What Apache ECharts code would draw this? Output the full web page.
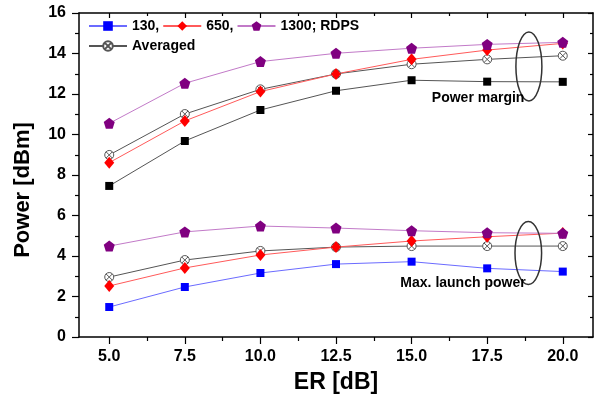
<!DOCTYPE html>
<html>
<head>
<meta charset="utf-8">
<script src="https://cdn.jsdelivr.net/npm/echarts@6/dist/echarts.min.js"></script>
<style>
html,body{margin:0;padding:0;background:#fff;}
#c{width:594px;height:402px;}
</style>
</head>
<body>
<div id="c"></div>
<script>
// ---- data ----
var erValues = [5, 7.5, 10, 12.5, 15, 17.5, 20];
var xMajorTicks = [5, 7.5, 10, 12.5, 15, 17.5, 20];
var xMinorTicks = [6.25, 8.75, 11.25, 13.75, 16.25, 18.75];
// Power margin group
var pm130  = [7.46, 9.68, 11.21, 12.16, 12.68, 12.61, 12.60];
var pm650  = [8.61, 10.67, 12.12, 12.99, 13.71, 14.17, 14.50];
var pm1300 = [10.55, 12.53, 13.60, 14.01, 14.26, 14.45, 14.55];
var pmAvg  = [8.99, 11.01, 12.23, 12.99, 13.47, 13.71, 13.89];
// Max. launch power group
var ml130  = [1.48, 2.47, 3.16, 3.60, 3.72, 3.39, 3.23];
var ml650  = [2.52, 3.41, 4.05, 4.44, 4.74, 4.95, 5.13];
var ml1300 = [4.49, 5.19, 5.48, 5.38, 5.25, 5.15, 5.12];
var mlAvg  = [2.96, 3.80, 4.25, 4.44, 4.49, 4.49, 4.49];
var legendRow1 = ['130,', '650,', '1300; RDPS'];
var legendRow2 = ['Averaged'];

var FONT = '"Liberation Sans", Arial, Helvetica, sans-serif';
var pentagon = 'path://M0,-10 L9.51,-3.09 L5.88,8.09 L-5.88,8.09 L-9.51,-3.09 Z';
var crossCircle = 'path://M10,0 A10,10 0 1 1 -10,0 A10,10 0 1 1 10,0 Z M-7.07,-7.07 L7.07,7.07 M-7.07,7.07 L7.07,-7.07';

function pairs(ys) { return erValues.map(function (x, i) { return [x, ys[i]]; }); }

function mk(name, ys, kind) {
  var s = {
    name: name, type: 'line', data: pairs(ys), xAxisIndex: 0, yAxisIndex: 0,
    showAllSymbol: true, animation: false
  };
  if (kind === 'blue') {
    s.symbol = 'rect'; s.symbolSize = 8;
    s.itemStyle = {color: '#0000ff'}; s.lineStyle = {color: '#6b6bff', width: 1};
  } else if (kind === 'black') {
    s.symbol = 'rect'; s.symbolSize = 8;
    s.itemStyle = {color: '#000000'}; s.lineStyle = {color: '#555555', width: 1};
  } else if (kind === 'red') {
    s.symbol = 'diamond'; s.symbolSize = [10, 12];
    s.itemStyle = {color: '#ff0000'}; s.lineStyle = {color: '#ff5a5a', width: 1};
  } else if (kind === 'purple') {
    s.symbol = pentagon; s.symbolSize = 11;
    s.itemStyle = {color: '#800080'}; s.lineStyle = {color: '#c27ac8', width: 1};
  } else {
    s.symbol = crossCircle; s.symbolSize = 9;
    s.itemStyle = {color: '#ffffff', borderColor: '#555555', borderWidth: 1};
    s.lineStyle = {color: '#555555', width: 1};
  }
  return s;
}

var chart = echarts.init(document.getElementById('c'), null, {renderer: 'canvas'});
var axisLine = {show: true, lineStyle: {color: '#000', width: 1.5}};
var legendCommon = {
  orient: 'horizontal', left: 88, padding: 0, itemGap: 3, itemWidth: 38, itemHeight: 12,
  textStyle: {fontFamily: FONT, fontSize: 14, fontWeight: 'bold', color: '#000'},
  selectedMode: false
};

chart.setOption({
  animation: false,
  backgroundColor: '#ffffff',
  grid: {left: 79, right: 1, top: 13, bottom: 65, containLabel: false, outerBoundsMode: 'none'},
  legend: [
    Object.assign({}, legendCommon, {top: 19, data: legendRow1}),
    Object.assign({}, legendCommon, {top: 39, data: legendRow2})
  ],
  xAxis: [
    {type: 'value', position: 'bottom', min: 4, max: 21, axisLine: axisLine,
     axisTick: {show: true, inside: false, length: 7, customValues: xMajorTicks, lineStyle: {color: '#000', width: 1.2}},
     axisLabel: {show: true, customValues: xMajorTicks, margin: 12, formatter: function (v) { return v.toFixed(1); },
                 fontFamily: FONT, fontSize: 16, fontWeight: 'bold', color: '#000'},
     splitLine: {show: false},
     name: 'ER [dB]', nameLocation: 'middle', nameGap: 34,
     nameTextStyle: {fontFamily: FONT, fontSize: 23, fontWeight: 'bold', color: '#000'}},
    {type: 'value', position: 'bottom', min: 4, max: 21, axisLine: {show: false},
     axisTick: {show: true, inside: false, length: 4, customValues: xMinorTicks, lineStyle: {color: '#000', width: 1.2}},
     axisLabel: {show: false}, splitLine: {show: false}},
    {type: 'value', position: 'top', min: 4, max: 21, axisLine: axisLine,
     axisTick: {show: true, inside: true, length: 5, customValues: xMajorTicks, lineStyle: {color: '#000', width: 1.2}},
     axisLabel: {show: false}, splitLine: {show: false}},
    {type: 'value', position: 'top', min: 4, max: 21, axisLine: {show: false},
     axisTick: {show: true, inside: true, length: 3, customValues: xMinorTicks, lineStyle: {color: '#000', width: 1.2}},
     axisLabel: {show: false}, splitLine: {show: false}}
  ],
  yAxis: [
    {type: 'value', position: 'left', min: 0, max: 16, interval: 2, axisLine: axisLine,
     axisTick: {show: true, inside: false, length: 7, lineStyle: {color: '#000', width: 1.2}},
     minorTick: {show: true, splitNumber: 2, length: 4, lineStyle: {color: '#000', width: 1.2}},
     axisLabel: {margin: 13, fontFamily: FONT, fontSize: 16, fontWeight: 'bold', color: '#000'},
     splitLine: {show: false}, minorSplitLine: {show: false}},
    {type: 'value', position: 'right', min: 0, max: 16, interval: 2, axisLine: axisLine,
     axisTick: {show: true, inside: true, length: 5, lineStyle: {color: '#000', width: 1.2}},
     minorTick: {show: true, splitNumber: 2, length: 3, lineStyle: {color: '#000', width: 1.2}},
     axisLabel: {show: false}, splitLine: {show: false}, minorSplitLine: {show: false}}
  ],
  series: [
    mk('130, PM', pm130, 'black'),
    mk('Averaged PM', pmAvg, 'avg'),
    mk('650, PM', pm650, 'red'),
    mk('1300; RDPS PM', pm1300, 'purple'),
    mk('130,', ml130, 'blue'),
    mk('Averaged', mlAvg, 'avg'),
    mk('650,', ml650, 'red'),
    mk('1300; RDPS', ml1300, 'purple')
  ]
});

// annotations anchored to data coordinates
function px(x, y) { return chart.convertToPixel({xAxisIndex: 0, yAxisIndex: 0}, [x, y]); }
var e1 = px(18.88, 13.36);
var e2 = px(18.86, 4.15);
var t1 = px(17.2, 11.80);
var t2 = px(16.7, 2.68);
chart.setOption({
  graphic: [
    {type: 'ellipse', shape: {cx: e1[0], cy: e1[1], rx: 13, ry: 34.5}, style: {fill: 'none', stroke: '#333', lineWidth: 1.5}, z: 100},
    {type: 'ellipse', shape: {cx: e2[0], cy: e2[1], rx: 13.3, ry: 31.5}, style: {fill: 'none', stroke: '#333', lineWidth: 1.5}, z: 100},
    {type: 'text', x: t1[0], y: t1[1], style: {text: 'Power margin', font: 'bold 14px ' + FONT, fill: '#000', align: 'center', verticalAlign: 'middle'}, z: 101},
    {type: 'text', x: t2[0], y: t2[1], style: {text: 'Max. launch power', font: 'bold 14px ' + FONT, fill: '#000', align: 'center', verticalAlign: 'middle'}, z: 101},
    {type: 'text', x: 23, y: 190, rotation: Math.PI / 2, style: {text: 'Power [dBm]', font: 'bold 22px ' + FONT, fill: '#000', align: 'center', verticalAlign: 'middle'}, z: 101}
  ]
});
</script>
</body>
</html>
